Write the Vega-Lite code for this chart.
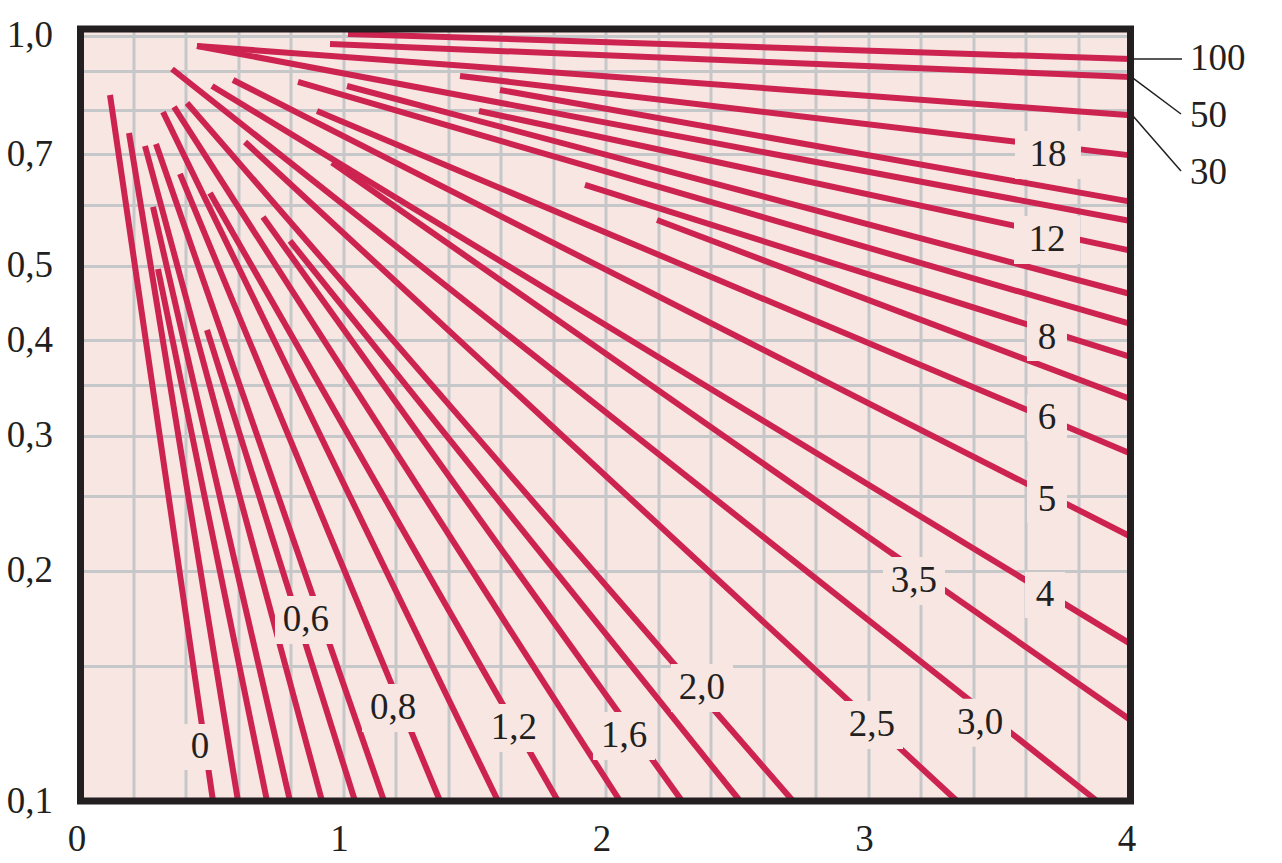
{
  "$schema": "https://vega.github.io/schema/vega-lite/v6.json",
  "width": 1050,
  "height": 772,
  "autosize": {"type": "none"},
  "padding": {"left": 80.5, "top": 29, "right": 151.5, "bottom": 62},
  "background": "white",
  "config": {"view": {"stroke": null, "fill": "#f8e6e2"}, "font": "Liberation Serif"},
  "datasets": {
    "lines": [
      {"line": "100", "x": 1.019, "y": 1.005}, {"line": "100", "x": 4, "y": 0.932},
      {"line": "50", "x": 0.9505, "y": 0.9751}, {"line": "50", "x": 4, "y": 0.8829},
      {"line": "30", "x": 0.4438, "y": 0.9692}, {"line": "30", "x": 4, "y": 0.7868},
      {"line": "24", "x": 0.4438, "y": 0.9692}, {"line": "24", "x": 4, "y": 0.5725},
      {"line": "18", "x": 1.4457, "y": 0.8856}, {"line": "18", "x": 4, "y": 0.6974},
      {"line": "15", "x": 1.5981, "y": 0.849}, {"line": "15", "x": 4, "y": 0.6069},
      {"line": "12", "x": 1.5181, "y": 0.7971}, {"line": "12", "x": 4, "y": 0.5236},
      {"line": "10", "x": 1.0152, "y": 0.8593}, {"line": "10", "x": 4, "y": 0.4596},
      {"line": "9", "x": 0.8286, "y": 0.8697}, {"line": "9", "x": 4, "y": 0.42},
      {"line": "8", "x": 1.9219, "y": 0.638}, {"line": "8", "x": 4, "y": 0.3803},
      {"line": "7", "x": 2.1962, "y": 0.5742}, {"line": "7", "x": 4, "y": 0.3351},
      {"line": "6", "x": 0.901, "y": 0.7971}, {"line": "6", "x": 4, "y": 0.2845},
      {"line": "5", "x": 0.581, "y": 0.875}, {"line": "5", "x": 4, "y": 0.2216},
      {"line": "4", "x": 0.501, "y": 0.8593}, {"line": "4", "x": 4, "y": 0.1604},
      {"line": "3,5", "x": 0.958, "y": 0.6825}, {"line": "3,5", "x": 4, "y": 0.1276},
      {"line": "0", "x": 0.1124, "y": 0.8364}, {"line": "0", "x": 0.5048, "y": 0.1},
      {"line": "0,2", "x": 0.1848, "y": 0.746}, {"line": "0,2", "x": 0.6, "y": 0.1},
      {"line": "0,3", "x": 0.2952, "y": 0.4955}, {"line": "0,3", "x": 0.7105, "y": 0.1},
      {"line": "0,4", "x": 0.2762, "y": 0.5972}, {"line": "0,4", "x": 0.7981, "y": 0.1},
      {"line": "0,5", "x": 0.2457, "y": 0.7174}, {"line": "0,5", "x": 0.92, "y": 0.1},
      {"line": "0,6", "x": 0.4819, "y": 0.4124}, {"line": "0,6", "x": 1.0457, "y": 0.1},
      {"line": "0,7", "x": 0.2876, "y": 0.7217}, {"line": "0,7", "x": 1.1562, "y": 0.1},
      {"line": "0,8", "x": 0.379, "y": 0.6595}, {"line": "0,8", "x": 1.3695, "y": 0.1},
      {"line": "1,0", "x": 0.3143, "y": 0.7947}, {"line": "1,0", "x": 1.5905, "y": 0.1},
      {"line": "1,2", "x": 0.4933, "y": 0.6228}, {"line": "1,2", "x": 1.819, "y": 0.1},
      {"line": "1,4", "x": 0.3562, "y": 0.8067}, {"line": "1,4", "x": 2.0552, "y": 0.1},
      {"line": "1,6", "x": 0.6952, "y": 0.5794}, {"line": "1,6", "x": 2.2914, "y": 0.1},
      {"line": "1,8", "x": 0.7981, "y": 0.5391}, {"line": "1,8", "x": 2.5124, "y": 0.1},
      {"line": "2,0", "x": 0.4057, "y": 0.8165}, {"line": "2,0", "x": 2.7143, "y": 0.1},
      {"line": "2,5", "x": 0.6267, "y": 0.7261}, {"line": "2,5", "x": 3.339, "y": 0.1},
      {"line": "3,0", "x": 0.3486, "y": 0.9044}, {"line": "3,0", "x": 3.8724, "y": 0.1}
    ],
    "labels": [
      {"label": "0", "x": 0.4552, "y": 0.1176},
      {"label": "0,6", "x": 0.859, "y": 0.1724},
      {"label": "0,8", "x": 1.1905, "y": 0.1323},
      {"label": "1,2", "x": 1.6514, "y": 0.1246},
      {"label": "1,6", "x": 2.0705, "y": 0.1216},
      {"label": "2,0", "x": 2.3676, "y": 0.1405},
      {"label": "2,5", "x": 3.0152, "y": 0.1257},
      {"label": "3,0", "x": 3.4267, "y": 0.1265},
      {"label": "3,5", "x": 3.1752, "y": 0.1938},
      {"label": "4", "x": 3.6743, "y": 0.1858},
      {"label": "5", "x": 3.6819, "y": 0.2473},
      {"label": "6", "x": 3.6819, "y": 0.3165},
      {"label": "8", "x": 3.6819, "y": 0.4026},
      {"label": "12", "x": 3.6819, "y": 0.5407},
      {"label": "18", "x": 3.6857, "y": 0.6982}
    ],
    "side": [
      {"label": "100", "x": 4.2267, "y": 0.9306},
      {"label": "50", "x": 4.2267, "y": 0.784},
      {"label": "30", "x": 4.2267, "y": 0.6605}
    ],
    "leaders": [
      {"x": 4.0095, "y": 0.932, "x2": 4.1962, "y2": 0.932},
      {"x": 4.0095, "y": 0.8801, "x2": 4.1924, "y2": 0.7899},
      {"x": 4.0095, "y": 0.7852, "x2": 4.1924, "y2": 0.6655}
    ]
  },
  "layer": [
    {
      "data": {"name": "lines"},
      "mark": {"type": "line", "color": "#cd2350", "strokeWidth": 6, "strokeCap": "butt"},
      "encoding": {
        "x": {
          "field": "x", "type": "quantitative",
          "scale": {"domain": [0, 4], "nice": false, "zero": false},
          "axis": {
            "values": [0, 0.2, 0.4, 0.6, 0.8, 1, 1.2, 1.4, 1.6, 1.8, 2, 2.2, 2.4, 2.6, 2.8, 3, 3.2, 3.4, 3.6, 3.8, 4],
            "labelExpr": "datum.value % 1 == 0 ? format(datum.value, 'd') : ''",
            "grid": true, "gridColor": "#c6c7c9", "gridWidth": 3,
            "ticks": false, "domain": false, "title": null,
            "labelFont": "Liberation Serif", "labelFontSize": 37, "labelColor": "#231f20",
            "labelPadding": 20, "labelOffset": -4, "labelOverlap": false, "labelFlush": false, "labelBound": false
          }
        },
        "y": {
          "field": "y", "type": "quantitative",
          "scale": {"type": "log", "domain": [0.1, 1.02], "nice": false, "zero": false},
          "axis": {
            "values": [0.1, 0.15, 0.2, 0.25, 0.3, 0.35, 0.4, 0.5, 0.6, 0.7, 0.8, 0.9, 1],
            "labelExpr": "indexof([0.1, 0.2, 0.3, 0.4, 0.5, 0.7, 1], datum.value) >= 0 ? replace(format(datum.value, '.1f'), '.', ',') : ''",
            "grid": true, "gridColor": "#c6c7c9", "gridWidth": 3,
            "ticks": false, "domain": false, "title": null,
            "labelFont": "Liberation Serif", "labelFontSize": 37, "labelColor": "#231f20",
            "labelPadding": 28, "labelOverlap": false, "labelFlush": false, "labelBound": false
          }
        },
        "detail": {"field": "line"}
      }
    },
    {
      "data": {"name": "labels"},
      "transform": [{"filter": "length(datum.label) == 3"}],
      "mark": {"type": "rect", "width": 62, "height": 48, "color": "#f8e6e2"},
      "encoding": {"x": {"field": "x", "type": "quantitative"}, "y": {"field": "y", "type": "quantitative"}}
    },
    {
      "data": {"name": "labels"},
      "transform": [{"filter": "length(datum.label) == 2"}],
      "mark": {"type": "rect", "width": 66, "height": 48, "color": "#f8e6e2"},
      "encoding": {"x": {"field": "x", "type": "quantitative"}, "y": {"field": "y", "type": "quantitative"}}
    },
    {
      "data": {"name": "labels"},
      "transform": [{"filter": "length(datum.label) == 1"}],
      "mark": {"type": "rect", "width": 40, "height": 46, "color": "#f8e6e2"},
      "encoding": {"x": {"field": "x", "type": "quantitative"}, "y": {"field": "y", "type": "quantitative"}}
    },
    {
      "data": {"name": "labels"},
      "mark": {"type": "text", "font": "Liberation Serif", "fontSize": 37, "color": "#231f20", "align": "center", "baseline": "middle"},
      "encoding": {"x": {"field": "x", "type": "quantitative"}, "y": {"field": "y", "type": "quantitative"}, "text": {"field": "label"}}
    },
    {
      "data": {"values": [{}]},
      "mark": {"type": "rect", "fill": "transparent", "fillOpacity": 0, "stroke": "#231f20", "strokeWidth": 7},
      "encoding": {"x": {"datum": 0}, "x2": {"datum": 4}, "y": {"datum": 0.1}, "y2": {"datum": 1.02}}
    },
    {
      "data": {"name": "leaders"},
      "mark": {"type": "rule", "color": "#231f20", "strokeWidth": 1.5},
      "encoding": {"x": {"field": "x", "type": "quantitative"}, "y": {"field": "y", "type": "quantitative"}, "x2": {"field": "x2"}, "y2": {"field": "y2"}}
    },
    {
      "data": {"name": "side"},
      "mark": {"type": "text", "font": "Liberation Serif", "fontSize": 37, "color": "#231f20", "align": "left", "baseline": "middle"},
      "encoding": {"x": {"field": "x", "type": "quantitative"}, "y": {"field": "y", "type": "quantitative"}, "text": {"field": "label"}}
    }
  ]
}
